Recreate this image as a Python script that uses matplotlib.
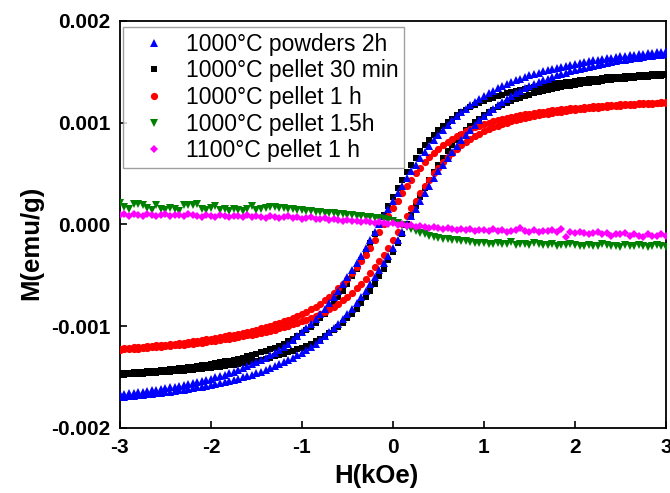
import numpy as np
import matplotlib
matplotlib.use("Agg")
import matplotlib.pyplot as plt
from matplotlib.ticker import FormatStrFormatter, MultipleLocator

plt.rcParams["font.family"] = ["Liberation Sans", "DejaVu Sans"]
plt.rcParams["axes.unicode_minus"] = False

# field sweep, kOe (same grid for every sample)
H = np.linspace(-3, 3, 121)

# magnetisation in units of 1e-3 emu/g; "up" = branch coming down from +H, "dn" = branch going up from -H
powders_2h_up = [
    -1.671, -1.666, -1.661, -1.655, -1.649, -1.643, -1.637, -1.631, -1.624, -1.617,
    -1.610, -1.602, -1.594, -1.586, -1.577, -1.568, -1.559, -1.549, -1.538, -1.527,
    -1.516, -1.503, -1.491, -1.477, -1.463, -1.447, -1.431, -1.414, -1.396, -1.377,
    -1.357, -1.335, -1.312, -1.287, -1.261, -1.233, -1.203, -1.171, -1.137, -1.100,
    -1.061, -1.020, -0.976, -0.929, -0.879, -0.827, -0.771, -0.713, -0.652, -0.587,
    -0.521, -0.452, -0.380, -0.307, -0.231, -0.155, -0.078, 0.000, 0.078, 0.155,
    0.231, 0.307, 0.380, 0.452, 0.521, 0.587, 0.652, 0.713, 0.771, 0.827,
    0.879, 0.929, 0.976, 1.020, 1.061, 1.100, 1.137, 1.171, 1.203, 1.233,
    1.261, 1.287, 1.312, 1.335, 1.357, 1.377, 1.396, 1.414, 1.431, 1.447,
    1.463, 1.477, 1.491, 1.503, 1.516, 1.527, 1.538, 1.549, 1.559, 1.568,
    1.577, 1.586, 1.594, 1.602, 1.610, 1.617, 1.624, 1.631, 1.637, 1.643,
    1.649, 1.655, 1.661, 1.666, 1.671, 1.676, 1.681, 1.686, 1.690, 1.695,
    1.699]
powders_2h_dn = [
    -1.699, -1.695, -1.690, -1.686, -1.681, -1.676, -1.671, -1.666, -1.661, -1.655,
    -1.649, -1.643, -1.637, -1.631, -1.624, -1.617, -1.610, -1.602, -1.594, -1.586,
    -1.577, -1.568, -1.559, -1.549, -1.538, -1.527, -1.516, -1.503, -1.491, -1.477,
    -1.463, -1.447, -1.431, -1.414, -1.396, -1.377, -1.357, -1.335, -1.312, -1.287,
    -1.261, -1.233, -1.203, -1.171, -1.137, -1.100, -1.061, -1.020, -0.976, -0.929,
    -0.879, -0.827, -0.771, -0.713, -0.652, -0.587, -0.521, -0.452, -0.380, -0.307,
    -0.231, -0.155, -0.078, 0.000, 0.078, 0.155, 0.231, 0.307, 0.380, 0.452,
    0.521, 0.587, 0.652, 0.713, 0.771, 0.827, 0.879, 0.929, 0.976, 1.020,
    1.061, 1.100, 1.137, 1.171, 1.203, 1.233, 1.261, 1.287, 1.312, 1.335,
    1.357, 1.377, 1.396, 1.414, 1.431, 1.447, 1.463, 1.477, 1.491, 1.503,
    1.516, 1.527, 1.538, 1.549, 1.559, 1.568, 1.577, 1.586, 1.594, 1.602,
    1.610, 1.617, 1.624, 1.631, 1.637, 1.643, 1.649, 1.655, 1.661, 1.666,
    1.671]

pellet_30min_up = [
    -1.464, -1.461, -1.458, -1.454, -1.451, -1.447, -1.444, -1.440, -1.436, -1.432,
    -1.427, -1.423, -1.418, -1.413, -1.408, -1.402, -1.397, -1.391, -1.384, -1.378,
    -1.371, -1.363, -1.356, -1.347, -1.339, -1.329, -1.320, -1.309, -1.298, -1.286,
    -1.273, -1.259, -1.244, -1.228, -1.211, -1.192, -1.172, -1.149, -1.125, -1.099,
    -1.070, -1.038, -1.004, -0.966, -0.924, -0.879, -0.829, -0.775, -0.717, -0.653,
    -0.585, -0.512, -0.435, -0.353, -0.268, -0.180, -0.091, 0.000, 0.091, 0.180,
    0.268, 0.353, 0.435, 0.512, 0.585, 0.653, 0.717, 0.775, 0.829, 0.879,
    0.924, 0.966, 1.004, 1.038, 1.070, 1.099, 1.125, 1.149, 1.172, 1.192,
    1.211, 1.228, 1.244, 1.259, 1.273, 1.286, 1.298, 1.309, 1.320, 1.329,
    1.339, 1.347, 1.356, 1.368, 1.371, 1.378, 1.389, 1.391, 1.397, 1.402,
    1.408, 1.413, 1.418, 1.428, 1.427, 1.432, 1.436, 1.445, 1.444, 1.447,
    1.451, 1.459, 1.458, 1.461, 1.464, 1.467, 1.470, 1.472, 1.475, 1.478,
    1.480]
pellet_30min_dn = [
    -1.480, -1.478, -1.475, -1.472, -1.470, -1.467, -1.464, -1.461, -1.458, -1.454,
    -1.451, -1.447, -1.444, -1.440, -1.436, -1.432, -1.427, -1.423, -1.418, -1.413,
    -1.408, -1.402, -1.397, -1.391, -1.384, -1.378, -1.371, -1.363, -1.356, -1.347,
    -1.339, -1.329, -1.320, -1.309, -1.298, -1.286, -1.273, -1.259, -1.244, -1.228,
    -1.211, -1.192, -1.172, -1.149, -1.125, -1.099, -1.070, -1.038, -1.004, -0.966,
    -0.924, -0.879, -0.829, -0.775, -0.717, -0.653, -0.585, -0.512, -0.435, -0.353,
    -0.268, -0.180, -0.091, 0.000, 0.091, 0.180, 0.268, 0.353, 0.435, 0.512,
    0.585, 0.653, 0.717, 0.775, 0.829, 0.879, 0.924, 0.966, 1.004, 1.038,
    1.070, 1.099, 1.125, 1.149, 1.172, 1.192, 1.211, 1.228, 1.244, 1.259,
    1.273, 1.286, 1.298, 1.309, 1.320, 1.329, 1.339, 1.347, 1.356, 1.363,
    1.371, 1.378, 1.384, 1.391, 1.397, 1.402, 1.408, 1.413, 1.418, 1.423,
    1.427, 1.432, 1.436, 1.440, 1.444, 1.447, 1.451, 1.454, 1.458, 1.461,
    1.464]

pellet_1h_up = [
    -1.220, -1.216, -1.213, -1.210, -1.206, -1.202, -1.198, -1.194, -1.190, -1.186,
    -1.181, -1.176, -1.171, -1.166, -1.161, -1.155, -1.149, -1.143, -1.136, -1.130,
    -1.123, -1.115, -1.108, -1.100, -1.092, -1.083, -1.074, -1.065, -1.055, -1.045,
    -1.034, -1.022, -1.010, -0.997, -0.983, -0.969, -0.954, -0.938, -0.921, -0.902,
    -0.882, -0.860, -0.836, -0.809, -0.779, -0.747, -0.711, -0.672, -0.630, -0.584,
    -0.534, -0.481, -0.424, -0.364, -0.300, -0.231, -0.156, -0.078, 0.000, 0.078,
    0.156, 0.231, 0.304, 0.373, 0.439, 0.500, 0.556, 0.609, 0.657, 0.700,
    0.740, 0.777, 0.809, 0.839, 0.866, 0.891, 0.913, 0.933, 0.952, 0.969,
    0.984, 0.999, 1.012, 1.024, 1.035, 1.046, 1.055, 1.064, 1.073, 1.081,
    1.088, 1.095, 1.102, 1.108, 1.114, 1.119, 1.125, 1.130, 1.134, 1.139,
    1.143, 1.147, 1.151, 1.155, 1.158, 1.162, 1.165, 1.168, 1.171, 1.174,
    1.177, 1.180, 1.182, 1.185, 1.187, 1.189, 1.192, 1.194, 1.196, 1.198,
    1.200]
pellet_1h_dn = [
    -1.230, -1.228, -1.226, -1.223, -1.220, -1.216, -1.213, -1.210, -1.206, -1.202,
    -1.198, -1.194, -1.190, -1.186, -1.181, -1.176, -1.171, -1.166, -1.161, -1.155,
    -1.149, -1.143, -1.136, -1.130, -1.123, -1.115, -1.108, -1.100, -1.092, -1.083,
    -1.074, -1.065, -1.055, -1.045, -1.034, -1.022, -1.010, -0.997, -0.983, -0.969,
    -0.954, -0.938, -0.921, -0.902, -0.882, -0.860, -0.836, -0.809, -0.779, -0.747,
    -0.711, -0.672, -0.630, -0.584, -0.534, -0.481, -0.424, -0.364, -0.300, -0.231,
    -0.156, -0.078, 0.000, 0.078, 0.156, 0.231, 0.304, 0.373, 0.439, 0.500,
    0.556, 0.609, 0.657, 0.700, 0.740, 0.777, 0.809, 0.839, 0.866, 0.891,
    0.913, 0.933, 0.952, 0.969, 0.984, 0.999, 1.012, 1.024, 1.035, 1.046,
    1.055, 1.064, 1.073, 1.081, 1.088, 1.095, 1.102, 1.108, 1.114, 1.119,
    1.125, 1.130, 1.134, 1.139, 1.143, 1.147, 1.151, 1.155, 1.158, 1.162,
    1.165, 1.168, 1.171, 1.174, 1.177, 1.180, 1.182, 1.185, 1.187, 1.189,
    1.192]

pellet_1p5h = [
    0.21, 0.17, 0.15, 0.20, 0.20, 0.19, 0.16, 0.14, 0.19, 0.15,
    0.14, 0.16, 0.15, 0.13, 0.19, 0.19, 0.19, 0.20, 0.15, 0.14,
    0.16, 0.18, 0.14, 0.15, 0.13, 0.15, 0.14, 0.13, 0.15, 0.18,
    0.14, 0.15, 0.16, 0.17, 0.17, 0.16, 0.16, 0.15, 0.15, 0.14,
    0.14, 0.13, 0.13, 0.12, 0.12, 0.11, 0.11, 0.11, 0.10, 0.10,
    0.09, 0.09, 0.08, 0.08, 0.07, 0.07, 0.06, 0.06, 0.05, 0.04,
    0.03, 0.01, -0.01, -0.03, -0.05, -0.07, -0.09, -0.10, -0.11, -0.12,
    -0.13, -0.14, -0.14, -0.15, -0.15, -0.16, -0.16, -0.17, -0.18, -0.18,
    -0.18, -0.19, -0.19, -0.18, -0.19, -0.19, -0.17, -0.20, -0.19, -0.19,
    -0.20, -0.18, -0.19, -0.20, -0.20, -0.19, -0.21, -0.20, -0.20, -0.19,
    -0.20, -0.21, -0.21, -0.20, -0.21, -0.21, -0.19, -0.20, -0.21, -0.21,
    -0.22, -0.20, -0.21, -0.21, -0.20, -0.21, -0.22, -0.21, -0.20, -0.21,
    -0.22]

pellet_1100 = [
    0.09, 0.10, 0.08, 0.10, 0.09, 0.08, 0.10, 0.09, 0.08, 0.09,
    0.10, 0.08, 0.09, 0.09, 0.08, 0.10, 0.09, 0.08, 0.07, 0.09,
    0.08, 0.07, 0.09, 0.08, 0.07, 0.08, 0.08, 0.07, 0.09, 0.07,
    0.08, 0.07, 0.06, 0.08, 0.07, 0.06, 0.07, 0.08, 0.06, 0.07,
    0.05, 0.06, 0.07, 0.05, 0.05, 0.06, 0.04, 0.05, 0.04, 0.03,
    0.04, 0.03, 0.03, 0.02, 0.03, 0.02, 0.01, 0.02, 0.01, 0.00,
    0.01, -0.01, 0.00, -0.02, -0.01, -0.03, -0.02, -0.03, -0.04, -0.03,
    -0.04, -0.05, -0.04, -0.05, -0.06, -0.05, -0.06, -0.05, -0.07, -0.06,
    -0.06, -0.07, -0.05, -0.07, -0.06, -0.08, -0.07, -0.06, -0.04, -0.07,
    -0.08, -0.06, -0.08, -0.07, -0.07, -0.06, -0.08, -0.05, -0.12, -0.08,
    -0.09, -0.08, -0.09, -0.10, -0.09, -0.08, -0.10, -0.09, -0.11, -0.10,
    -0.10, -0.09, -0.11, -0.10, -0.11, -0.12, -0.10, -0.11, -0.11, -0.10,
    -0.11]

labels = ["1000°C powders 2h", "1000°C pellet 30 min", "1000°C pellet 1 h",
          "1000°C pellet 1.5h", "1100°C pellet 1 h"]

fig = plt.figure(figsize=(6.7, 4.93), dpi=100)
ax = fig.add_axes([0.179, 0.132, 0.815, 0.826])

def branch(y, **kw):
    return ax.plot(H, np.asarray(y) * 1e-3, linestyle="none", **kw)

branch(powders_2h_up, marker="^", ms=5.4, color="#0000ff", mew=0, zorder=3.2, label=labels[0])
branch(powders_2h_dn, marker="^", ms=5.4, color="#0000ff", mew=0, zorder=3.2)
branch(pellet_30min_up, marker="s", ms=4.6, color="black", mew=0, zorder=3.0, label=labels[1])
branch(pellet_30min_dn, marker="s", ms=4.6, color="black", mew=0, zorder=3.0)
branch(pellet_1h_up, marker="o", ms=5.2, color="#ff0000", mew=0, zorder=3.1, label=labels[2])
branch(pellet_1h_dn, marker="o", ms=5.2, color="#ff0000", mew=0, zorder=3.1)
branch(pellet_1p5h, marker="v", ms=5.4, color="#008000", mew=0, zorder=3.3, label=labels[3])
branch(pellet_1100, marker="D", ms=4.4, color="#ff00ff", mew=0, zorder=3.4, label=labels[4])

ax.set_xlim(-3, 3)
ax.set_ylim(-0.002, 0.002)
ax.xaxis.set_major_locator(MultipleLocator(1))
ax.yaxis.set_major_locator(MultipleLocator(0.001))
ax.xaxis.set_major_formatter(FormatStrFormatter("%d"))
ax.yaxis.set_major_formatter(FormatStrFormatter("%.3f"))
ax.tick_params(direction="in", length=5, width=1.2, labelsize=15, pad=7,
               top=False, right=False)
for t in ax.get_xticklabels() + ax.get_yticklabels():
    t.set_fontweight("bold")
for s in ax.spines.values():
    s.set_linewidth(1.3)

ax.set_xlabel("H(kOe)", fontsize=18.5, fontweight="bold")
ax.set_ylabel("M(emu/g)", fontsize=18.5, fontweight="bold")
ax.xaxis.set_label_coords(0.47, -0.088)
ax.yaxis.set_label_coords(-0.141, 0.455)

leg = ax.legend(loc="upper left", bbox_to_anchor=(0.005, 0.985), borderaxespad=0,
                fontsize=16.5, frameon=True, fancybox=False, edgecolor="#888888",
                handlelength=2.2, handletextpad=0.3, labelspacing=0.16,
                borderpad=0.25, markerscale=1.0)
leg.get_frame().set_linewidth(1.0)

fig.savefig("out.png", dpi=100)
